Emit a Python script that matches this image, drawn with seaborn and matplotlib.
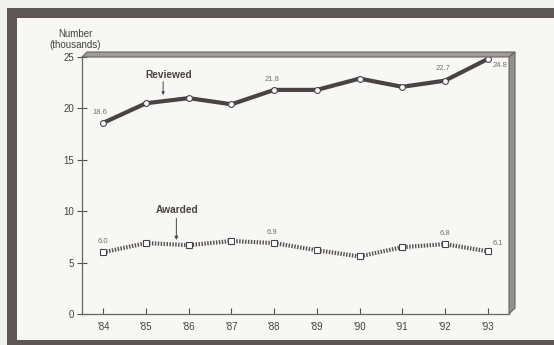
import matplotlib
matplotlib.use("Agg")
import matplotlib.pyplot as plt
import seaborn as sns
import pandas as pd
from matplotlib.patches import Rectangle, Polygon

years = ["'84", "'85", "'86", "'87", "'88", "'89", "'90", "'91", "'92", "'93"]
reviewed = [18.6, 20.5, 21.0, 20.4, 21.8, 21.8, 22.9, 22.1, 22.7, 24.8]
awarded = [6.0, 6.9, 6.7, 7.1, 6.9, 6.2, 5.6, 6.5, 6.8, 6.1]
y_ticks = [0, 5, 10, 15, 20, 25]
rev_labels = {0: "18.6", 4: "21.8", 8: "22.7", 9: "24.8"}
awd_labels = {0: "6.0", 4: "6.9", 8: "6.8", 9: "6.1"}

sns.set_theme(style="white")
plt.rcParams['font.family'] = ['Liberation Sans', 'DejaVu Sans']

W, H = 554, 345
fig = plt.figure(figsize=(W / 100, H / 100), dpi=100)
fig.patch.set_facecolor("#f1f1ef")

def fx(px):
    return px / W

def fy(py):
    return 1 - py / H

# outer dark frame and inner white panel
fig.patches.append(Rectangle((fx(7), 0), 1 - fx(7), fy(8), transform=fig.transFigure,
                             facecolor="#5f5656", edgecolor="none", zorder=-2))
fig.patches.append(Rectangle((fx(17), fy(340)), 1 - fx(17), fy(18) - fy(340),
                             transform=fig.transFigure, facecolor="#f7f7f5",
                             edgecolor="none", zorder=-1))

ax = fig.add_axes([fx(82), fy(314), fx(509) - fx(82), fy(57) - fy(314)])
ax.set_facecolor("#f7f7f5")
ax.set_zorder(1)

df = pd.DataFrame({"x": list(range(len(years))), "reviewed": reviewed, "awarded": awarded})

sns.lineplot(data=df, x="x", y="reviewed", ax=ax, color="#4a4343", linewidth=3.0,
             marker="o", markersize=4.2, markerfacecolor="white",
             markeredgecolor="#4a4343", markeredgewidth=0.8, zorder=3)
sns.lineplot(data=df, x="x", y="awarded", ax=ax, color="#5a5353", linewidth=3.0,
             marker="s", markersize=4.2, markerfacecolor="white",
             markeredgecolor="#4a4343", markeredgewidth=0.8, zorder=3)
ax.lines[1].set_dashes([0.35, 0.35])

ax.set_xlim(-0.5, 9.5)
ax.set_ylim(0, 25)
ax.set_xticks(range(len(years)))
ax.set_xticklabels(years)
ax.set_yticks(y_ticks)
ax.set_xlabel("")
ax.set_ylabel("")
for s in ["top", "right"]:
    ax.spines[s].set_visible(False)
for s in ["left", "bottom"]:
    ax.spines[s].set_color("#6a6464")
    ax.spines[s].set_linewidth(0.9)
ax.tick_params(axis="y", direction="inout", length=7, width=0.8, colors="#555050",
               labelsize=7, pad=2, left=True)
ax.tick_params(axis="x", direction="in", length=4, width=0.8, colors="#555050",
               labelsize=7, pad=6, bottom=True)
for lab in ax.get_xticklabels() + ax.get_yticklabels():
    lab.set_color("#444040")

# data labels
lab_kw = dict(fontsize=5.5, color="#777070", ha="center", va="bottom")
offs_r = {0: (-0.07, 0.7), 4: (-0.05, 0.7), 8: (-0.05, 0.8), 9: (0.3, -1.0)}
for i, t in rev_labels.items():
    dx, dy = offs_r[i]
    ax.text(i + dx, reviewed[i] + dy, t, **lab_kw)
offs_a = {0: (0.0, 0.7), 4: (-0.05, 0.7), 8: (0.0, 0.7), 9: (0.25, 0.4)}
for i, t in awd_labels.items():
    dx, dy = offs_a[i]
    ax.text(i + dx, awarded[i] + dy, t, **lab_kw)

# series annotations with arrows
txt_kw = dict(fontsize=7.3, fontweight="bold", color="#4a4444", ha="center", va="center")
ax.text(1.52, 23.25, "Reviewed", **txt_kw)
ax.annotate("", xy=(1.40, 21.3), xytext=(1.40, 22.6),
            arrowprops=dict(arrowstyle="-|>", color="#4a4444", lw=0.7,
                            mutation_scale=4, shrinkA=0, shrinkB=0))
ax.text(1.73, 10.1, "Awarded", **txt_kw)
ax.annotate("", xy=(1.71, 7.2), xytext=(1.71, 9.3),
            arrowprops=dict(arrowstyle="-|>", color="#4a4444", lw=0.7,
                            mutation_scale=5, shrinkA=0, shrinkB=0))

# axis title
fig.text(fx(75), fy(50), "Number\n(thousands)", fontsize=7, color="#444040",
         ha="center", va="bottom", linespacing=1.1)

# 3D frame of plot box
top_band = Polygon([(fx(82), fy(57)), (fx(87), fy(52)), (fx(515), fy(52)), (fx(509), fy(57))],
                   closed=True, transform=fig.transFigure, facecolor="#a09a9a",
                   edgecolor="#6a6363", linewidth=0.8, zorder=5)
right_band = Polygon([(fx(509), fy(57)), (fx(515), fy(52)), (fx(515), fy(308)), (fx(509), fy(314))],
                     closed=True, transform=fig.transFigure, facecolor="#948e8e",
                     edgecolor="#6a6363", linewidth=0.8, zorder=5)
fig.patches.append(top_band)
fig.patches.append(right_band)

fig.savefig("out.png", dpi=100, facecolor=fig.get_facecolor())
